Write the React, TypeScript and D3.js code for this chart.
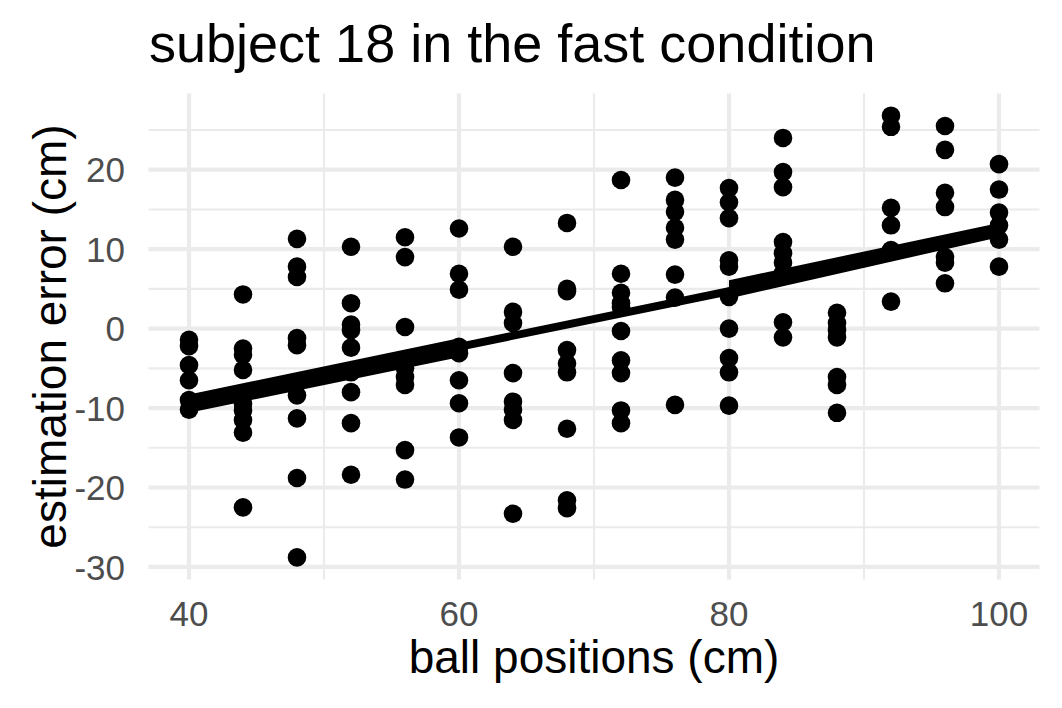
import React, { useRef, useEffect } from "react";
import * as d3 from "d3";

// ball positions (cm) and the estimation errors (cm) read at each of them
const positions = [40, 44, 48, 52, 56, 60, 64, 68, 72, 76, 80, 84, 88, 92, 96, 100];
const errorsByPosition = [
  [-1.4, -2.2, -4.6, -6.5, -9.0, -10.2],
  [4.3, -2.5, -3.3, -5.2, -8.5, -9.5, -10.3, -11.5, -13.1, -22.5],
  [11.3, 7.8, 6.5, -1.2, -2.1, -8.4, -11.3, -18.8, -28.8],
  [10.3, 3.2, 0.5, -0.2, -2.4, -5.5, -8.0, -11.9, -18.4],
  [11.5, 9.0, 0.2, -5.0, -6.1, -7.1, -15.3, -19.0],
  [12.6, 6.9, 4.9, -2.3, -3.1, -6.5, -9.4, -13.7],
  [10.3, 2.1, 0.7, -5.6, -9.2, -10.2, -11.5, -23.3],
  [13.3, 5.0, 4.7, -2.7, -4.4, -5.5, -12.6, -21.6, -22.6],
  [18.7, 6.9, 4.5, 3.2, 2.7, -0.3, -4.0, -5.6, -10.3, -11.9],
  [19.0, 16.2, 14.7, 12.7, 11.2, 6.8, 3.9, -9.6],
  [17.7, 15.9, 13.9, 8.6, 7.8, 4.0, 0.0, -3.7, -5.5, -9.7],
  [24.0, 19.7, 17.8, 10.9, 9.5, 8.3, 7.0, 0.8, -1.1],
  [2.0, 0.7, -0.2, -1.1, -6.1, -7.1, -10.6],
  [26.8, 25.4, 15.2, 13.0, 9.9, 3.4],
  [25.5, 22.5, 17.1, 15.3, 9.0, 8.3, 5.7],
  [20.7, 17.5, 14.6, 13.0, 11.2, 7.8],
];

// fitted line (centre) and the overplotted bands of fitted lines
const fitX = [40, 60, 80, 100];
const fitY = [-9.5, -2.3, 4.7, 12.3];
const bandLowX = [40, 60];
const bandLow = [-10.6, -3.6];
const bandLowTop = [-8.3, -1.2];
const bandHighX = [80, 100];
const bandHigh = [3.8, 11.5];
const bandHighTop = [6.1, 13.3];

const xTicks = [40, 60, 80, 100];
const xMinor = [50, 70, 90];
const yTicks = [-30, -20, -10, 0, 10, 20];
const yMinor = [-25, -15, -5, 5, 15, 25];

const App = () => {
  const ref = useRef<SVGSVGElement>(null);

  useEffect(() => {
    const width = 1062;
    const height = 708;
    const panel = { left: 148.5, right: 1039.5, top: 93.6, bottom: 579.5 };
    const font = "'Liberation Sans', Arial, sans-serif";
    const gridColor = "#ebebeb";

    const points = positions.flatMap((p, i) => errorsByPosition[i].map(e => ({ x: p, y: e })));

    const xExt = d3.extent(positions) as [number, number];
    const yExt = d3.extent(points, d => d.y) as [number, number];
    const xPad = (xExt[1] - xExt[0]) * 0.05;
    const yPad = (yExt[1] - yExt[0]) * 0.05;

    const x = d3.scaleLinear()
      .domain([xExt[0] - xPad, xExt[1] + xPad])
      .range([panel.left, panel.right]);
    const y = d3.scaleLinear()
      .domain([yExt[0] - yPad, yExt[1] + yPad])
      .range([panel.bottom, panel.top]);

    const svg = d3.select(ref.current)
      .attr("width", width)
      .attr("height", height);
    svg.selectAll("*").remove();

    svg.append("rect").attr("width", width).attr("height", height).attr("fill", "white");

    // grid: minor first, then major
    const grid = svg.append("g");
    grid.selectAll(".ymin").data(yMinor).enter().append("line")
      .attr("x1", panel.left).attr("x2", panel.right)
      .attr("y1", d => y(d)).attr("y2", d => y(d))
      .attr("stroke", gridColor).attr("stroke-width", 2.1);
    grid.selectAll(".xmin").data(xMinor).enter().append("line")
      .attr("y1", panel.top).attr("y2", panel.bottom)
      .attr("x1", d => x(d)).attr("x2", d => x(d))
      .attr("stroke", gridColor).attr("stroke-width", 2.1);
    grid.selectAll(".ymaj").data(yTicks).enter().append("line")
      .attr("x1", panel.left).attr("x2", panel.right)
      .attr("y1", d => y(d)).attr("y2", d => y(d))
      .attr("stroke", gridColor).attr("stroke-width", 4.2);
    grid.selectAll(".xmaj").data(xTicks).enter().append("line")
      .attr("y1", panel.top).attr("y2", panel.bottom)
      .attr("x1", d => x(d)).attr("x2", d => x(d))
      .attr("stroke", gridColor).attr("stroke-width", 4.2);

    // points
    svg.append("g").selectAll("circle")
      .data(points).enter().append("circle")
      .attr("cx", d => x(d.x))
      .attr("cy", d => y(d.y))
      .attr("r", 9.3)
      .attr("fill", "black");

    // fitted line
    const line = d3.line<number>().x((d, i) => x(fitX[i])).y(d => y(d));
    svg.append("path")
      .attr("d", line(fitY))
      .attr("fill", "none")
      .attr("stroke", "black")
      .attr("stroke-width", 8);

    const band = (xs: number[], lo: number[], hi: number[]) =>
      d3.area<number>().x((d, i) => x(xs[i])).y0((d, i) => y(lo[i])).y1((d, i) => y(hi[i]))(xs);
    svg.append("path").attr("d", band(bandLowX, bandLow, bandLowTop)).attr("fill", "black");
    svg.append("path").attr("d", band(bandHighX, bandHigh, bandHighTop)).attr("fill", "black");

    // tick labels
    svg.append("g").selectAll("text")
      .data(xTicks).enter().append("text")
      .attr("x", d => x(d))
      .attr("y", 626)
      .attr("text-anchor", "middle")
      .style("font-family", font)
      .style("font-size", "35px")
      .attr("fill", "#4d4d4d")
      .text(d => d);
    svg.append("g").selectAll("text")
      .data(yTicks).enter().append("text")
      .attr("x", 125)
      .attr("y", d => y(d))
      .attr("dy", "0.36em")
      .attr("text-anchor", "end")
      .style("font-family", font)
      .style("font-size", "35px")
      .attr("fill", "#4d4d4d")
      .text(d => d);

    // axis titles
    svg.append("text")
      .attr("x", (panel.left + panel.right) / 2)
      .attr("y", 673)
      .attr("text-anchor", "middle")
      .style("font-family", font)
      .style("font-size", "46px")
      .text("ball positions (cm)");
    svg.append("text")
      .attr("transform", `translate(66,${(panel.top + panel.bottom) / 2}) rotate(-90)`)
      .attr("text-anchor", "middle")
      .style("font-family", font)
      .style("font-size", "46px")
      .text("estimation error (cm)");

    // title
    svg.append("text")
      .attr("x", 149)
      .attr("y", 62)
      .style("font-family", font)
      .style("font-size", "54px")
      .text("subject 18 in the fast condition");
  }, []);

  return (
    <div style={{ position: "absolute", left: 0, top: 0 }}>
      <svg ref={ref} style={{ display: "block" }}></svg>
    </div>
  );
};

export default App;
